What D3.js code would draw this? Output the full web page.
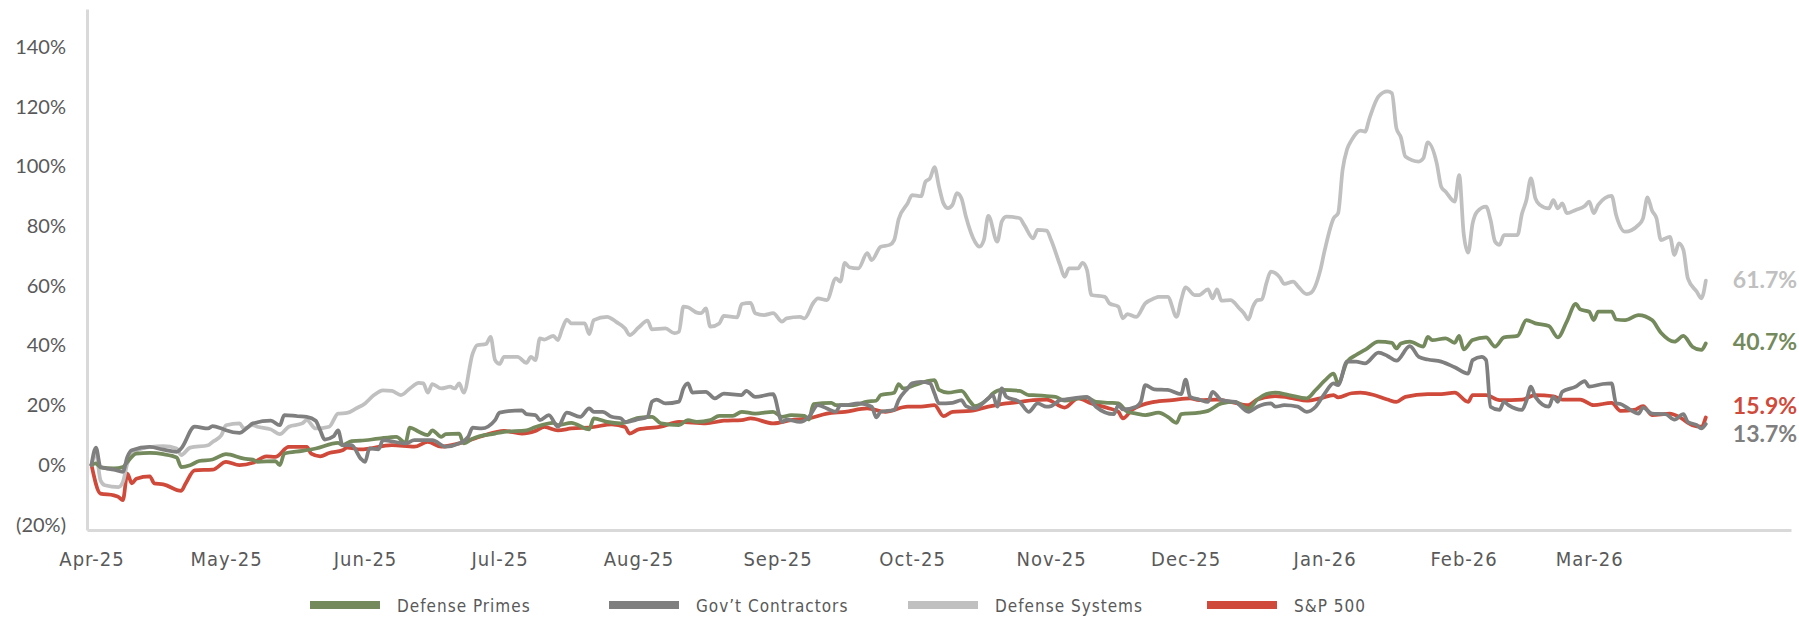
<!DOCTYPE html>
<html>
<head>
<meta charset="utf-8">
<script src="https://cdn.jsdelivr.net/npm/d3@7"></script>
<style>
  body { margin: 0; background: #fff; }
  svg { display: block; }
</style>
</head>
<body>
<svg id="chart" width="1799" height="617"></svg>
<script>
// days are counted from 1 Apr 2025, values are cumulative return in %
const startDate = new Date(2025, 3, 1)
const seriesNames = ['Defense Primes', 'Gov’t Contractors', 'Defense Systems', 'S&P 500']
const seriesColors = ['#748a5c', '#7f7f7f', '#c0c0c0', '#cf4a3a']
const yTicks = [-20, 0, 20, 40, 60, 80, 100, 120, 140]
const monthTicks = d3.timeMonth.range(new Date(2025, 3, 1), new Date(2026, 3, 1))

const defensePrimes = [[0,0],[1,0.5],[2,-0.8],[5,-1.2],[7,-0.7],[8,1],[10,3.8],[13,4.0],[16,3.6],[19,2.5],[20,-0.7],[22,-0.1],[24,1.3],[27,1.8],[30,3.6],[34,2.1],[36,1.8],[37,1.0],[41,1.3],[42,-0.1],[43,3.8],[47,4.7],[50,5.5],[55,7.4],[56,6.6],[58,8.0],[60,8.1],[64,8.8],[68,9.4],[70,7.4],[71,12.5],[73,11.1],[75,10.0],[76,11.6],[78,9.4],[79,10.3],[82,10.5],[83,7.2],[85,8.8],[90,10.5],[92,11.1],[97,11.6],[99,12.7],[103,14.1],[104,13.3],[107,14.1],[111,11.9],[112,15.6],[115,14.4],[118,13.9],[122,15.8],[125,16.1],[127,13.9],[131,13.3],[133,15.0],[135,14.4],[138,15.0],[140,16.4],[143,16.4],[145,17.8],[148,17.2],[152,17.8],[154,16.1],[156,16.7],[159,16.4],[160,15.2],[161,20.4],[165,20.8],[166,20.0],[170,20.0],[173,21.2],[175,21.5],[176,23.4],[179,24.2],[180,27.1],[181,25.6],[185,27.5],[188,28.4],[189,25.1],[191,24.2],[194,24.8],[196,21.1],[197,19.7],[200,22.3],[201,23.9],[203,25.1],[207,24.8],[209,23.4],[210,23.4],[213,23.0],[215,22.8],[217,21.5],[220,22.3],[222,22.6],[224,21.1],[227,20.8],[229,20.6],[231,17.8],[233,17.2],[235,16.7],[238,17.5],[240,16.1],[242,14.1],[243,17.0],[247,17.5],[249,18.1],[252,20.6],[255,21.1],[258,18.9],[260,21.9],[262,23.7],[264,24.2],[267,23.4],[271,22.3],[273,25.1],[275,28.2],[277,30.6],[278,27.3],[280,34.6],[282,36.8],[284,38.5],[287,41.3],[290,40.9],[291,39.0],[292,40.7],[294,41.3],[297,39.6],[298,42.9],[299,41.8],[302,42.4],[304,40.9],[305,43.2],[306,38.7],[308,41.8],[311,42.7],[313,39.6],[315,42.7],[318,43.2],[320,48.5],[322,47.4],[325,46.5],[327,42.7],[329,48.0],[331,53.9],[332,52.1],[334,51.3],[335,48.5],[336,51.3],[339,51.3],[340,48.7],[342,48.5],[345,50.2],[348,48.5],[350,44.3],[353,41.3],[355,43.2],[357,39.6],[359,38.5],[360,40.7]]

const govtContractors = [[0,0],[1,5.8],[2,-0.7],[5,-1.6],[7,-2.3],[8,2.7],[9,4.9],[13,6.0],[16,5.1],[19,4.4],[20,5.5],[23,12.8],[26,12.2],[27,13.0],[29,12.2],[30,11.6],[33,10.7],[35,12.8],[36,13.9],[40,14.8],[42,13.3],[43,16.7],[46,16.3],[48,16.1],[50,14.8],[51,11.6],[52,8.5],[54,9.6],[55,11.6],[56,6.6],[58,6.6],[60,2.2],[61,1.0],[62,5.5],[64,5.2],[65,8.3],[70,7.2],[72,8.3],[76,8.3],[79,6.1],[82,7.2],[84,9.4],[85,12.5],[87,12.2],[90,15.0],[91,17.5],[96,18.3],[97,17.0],[99,16.7],[100,15.0],[102,16.7],[104,12.8],[106,17.5],[109,16.1],[111,18.9],[112,17.8],[114,17.8],[116,16.1],[118,15.6],[119,14.4],[122,15.3],[124,16.1],[125,21.2],[126,21.9],[128,20.6],[131,21.2],[132,25.6],[133,27.3],[134,24.2],[137,24.5],[139,22.3],[141,23.9],[145,23.4],[146,24.8],[148,22.8],[152,23.7],[154,14.4],[155,15.2],[158,14.4],[160,16.1],[162,20.0],[164,18.9],[166,17.8],[167,20.0],[168,20.0],[171,20.6],[174,19.5],[175,15.9],[176,17.8],[179,18.4],[180,21.7],[182,25.6],[183,27.3],[185,27.8],[187,27.3],[188,23.9],[189,20.6],[192,20.8],[194,21.7],[195,19.7],[197,18.9],[200,22.3],[201,23.4],[202,19.5],[203,25.6],[204,22.8],[207,21.1],[209,17.8],[211,20.6],[213,19.5],[214,19.7],[216,21.7],[217,21.9],[222,22.8],[224,19.5],[228,17.0],[229,20.0],[230,18.6],[233,19.5],[234,21.1],[235,26.7],[237,25.3],[240,25.1],[243,23.7],[244,28.6],[245,22.8],[247,21.9],[249,21.1],[250,24.5],[252,21.7],[255,21.1],[258,17.8],[260,19.5],[263,20.6],[264,19.5],[266,20.0],[269,19.5],[271,17.8],[273,19.5],[275,23.9],[277,27.3],[278,26.7],[280,34.6],[282,34.6],[284,34.0],[287,37.6],[289,36.5],[291,34.9],[294,39.8],[296,36.2],[298,35.3],[301,34.6],[304,32.7],[307,30.6],[308,35.1],[310,36.2],[311,35.1],[312,19.5],[314,18.4],[315,21.1],[316,20.0],[319,18.4],[320,21.5],[321,26.2],[322,22.8],[325,19.5],[326,22.8],[327,21.1],[328,24.5],[331,26.2],[333,28.1],[334,26.2],[337,27.1],[339,27.3],[340,20.6],[341,20.4],[343,18.6],[345,17.2],[346,19.2],[348,17.2],[351,17.0],[353,15.2],[355,17.0],[356,14.4],[358,13.3],[359,12.2],[360,13.7]]

const defenseSystems = [[0,0],[1,3.8],[2,-5.1],[3,-6.8],[6,-7.4],[7,-5.7],[8,0.5],[10,4.7],[13,6.0],[16,6.3],[19,5.5],[20,3.3],[22,5.8],[26,6.6],[27,7.7],[29,10.0],[30,13.3],[33,13.9],[34,12.2],[36,13.3],[37,12.8],[40,11.9],[42,10.3],[44,12.8],[47,13.9],[48,15.0],[50,12.2],[53,12.8],[55,17.2],[57,17.4],[59,18.9],[61,20.6],[63,23.4],[65,25.0],[67,24.8],[69,23.4],[71,25.6],[73,27.5],[74,27.3],[75,24.2],[76,27.1],[78,25.6],[80,26.2],[81,25.6],[82,27.3],[83,24.2],[85,37.3],[86,40.1],[88,40.5],[89,42.9],[90,35.1],[91,33.8],[92,36.2],[95,36.2],[97,34.2],[98,36.2],[99,35.1],[100,42.4],[101,42.0],[103,43.2],[104,41.8],[105,45.7],[106,48.7],[107,47.4],[110,47.4],[111,43.8],[112,48.5],[115,49.6],[117,47.9],[119,45.7],[120,43.5],[122,46.0],[124,48.3],[125,45.4],[128,45.7],[130,44.1],[131,44.6],[132,53.0],[133,52.8],[135,51.0],[136,50.8],[137,52.4],[138,46.3],[140,47.4],[141,49.9],[144,49.4],[145,53.9],[147,54.3],[148,50.8],[150,50.2],[152,50.8],[154,48.0],[155,49.1],[158,49.6],[159,49.1],[161,54.3],[162,55.8],[164,55.2],[166,62.5],[167,61.4],[168,67.7],[169,66.2],[171,65.8],[173,70.9],[174,68.6],[176,73.1],[178,73.7],[179,75.3],[180,82.3],[182,87.6],[183,90.4],[185,90.0],[186,94.9],[187,96.0],[188,99.7],[189,93.2],[190,87.6],[191,86.0],[192,87.1],[193,91.0],[194,89.3],[195,83.2],[197,74.8],[198,73.1],[199,75.3],[200,83.4],[202,74.8],[203,81.5],[204,83.2],[207,82.6],[208,80.4],[210,75.9],[211,78.7],[213,78.5],[214,75.3],[216,66.9],[217,63.0],[218,65.8],[220,65.8],[221,67.7],[222,65.3],[223,56.9],[226,56.3],[227,54.1],[229,53.0],[230,49.1],[231,50.5],[233,49.6],[235,54.1],[237,55.8],[238,56.3],[240,56.3],[242,49.6],[243,55.2],[244,59.5],[246,56.9],[247,56.9],[249,58.8],[250,55.8],[251,58.8],[252,55.0],[254,55.2],[256,52.4],[257,50.8],[258,48.7],[259,53.0],[260,55.2],[261,55.4],[262,60.8],[263,64.7],[265,62.8],[266,60.6],[268,61.4],[269,59.9],[271,57.2],[272,57.7],[274,65.0],[275,71.8],[277,82.6],[278,84.3],[279,98.8],[280,105.7],[281,108.8],[283,112.0],[284,111.6],[285,116.1],[287,123.4],[289,125.1],[290,124.5],[291,112.8],[292,109.7],[293,103.3],[296,101.6],[297,102.7],[298,108.0],[300,101.0],[301,93.2],[302,91.5],[304,88.2],[305,97.1],[306,77.6],[307,71.1],[308,80.9],[309,84.8],[311,86.5],[312,82.0],[313,74.8],[314,73.7],[315,77.0],[318,77.0],[319,84.1],[320,88.7],[321,96.0],[322,89.3],[323,87.1],[325,85.9],[326,88.7],[327,85.9],[328,87.6],[329,84.3],[331,85.4],[333,86.7],[334,88.2],[335,84.3],[336,87.1],[339,90.1],[340,83.7],[342,78.1],[345,80.4],[346,82.6],[347,89.6],[348,85.2],[349,82.6],[350,75.3],[352,76.4],[353,70.3],[354,74.2],[355,72.0],[356,62.5],[358,58.0],[359,55.8],[360,61.7]]

const sp500 = [[0,0],[2,-9.6],[5,-10.2],[6,-10.7],[7,-11.8],[8,-2.9],[9,-6.2],[10,-4.6],[13,-3.8],[14,-6.2],[16,-6.5],[20,-8.7],[21,-6.2],[23,-1.8],[27,-1.6],[30,1.0],[33,-0.1],[36,0.7],[39,2.9],[41,2.7],[44,6.0],[48,6.0],[49,3.8],[51,2.9],[53,4.0],[56,4.9],[57,5.8],[60,5.2],[67,6.6],[72,6.1],[75,7.7],[78,6.1],[82,7.2],[87,9.6],[92,11.4],[96,10.5],[99,11.4],[101,12.7],[104,11.6],[107,12.2],[112,12.7],[116,13.6],[119,12.7],[120,10.5],[122,11.9],[127,12.8],[131,14.4],[137,13.9],[141,14.8],[145,15.0],[147,15.6],[152,13.9],[156,15.0],[160,15.6],[164,17.2],[168,17.8],[173,18.9],[177,17.8],[182,19.5],[185,19.5],[188,20.0],[190,16.3],[192,17.8],[196,18.1],[200,19.5],[204,20.6],[207,21.1],[210,21.7],[213,21.9],[217,19.2],[220,22.3],[223,20.6],[227,18.9],[229,17.8],[230,15.6],[232,18.4],[237,21.1],[241,21.7],[245,22.3],[247,21.7],[251,21.9],[254,21.1],[258,20.0],[260,21.9],[264,23.0],[268,22.3],[271,21.5],[274,22.3],[277,23.4],[278,22.6],[281,24.0],[283,24.2],[286,23.4],[289,21.9],[291,21.1],[293,22.8],[298,23.7],[301,23.7],[304,24.2],[307,21.1],[308,23.4],[311,23.4],[314,21.7],[319,21.9],[322,23.4],[326,23.0],[328,21.9],[332,21.9],[335,20.0],[339,20.8],[341,18.1],[344,18.4],[346,19.7],[348,16.7],[352,17.2],[354,16.1],[357,13.3],[359,12.8],[360,15.9]]

const allSeries = [defensePrimes, govtContractors, defenseSystems, sp500]
const drawOrder = [3, 2, 0, 1]

const svg = d3.select('#chart')
const axisColor = '#d9d9d9'
const textColor = '#595959'

const x = d3.scaleTime().domain([new Date(2025, 2, 31), new Date(2026, 3, 15)]).range([87, 1791])
const y = d3.scaleLinear().domain([-21.8, 152.7]).range([530, 9])

const dayToDate = d => d3.timeDay.offset(startDate, d)

// Y axis
const yAxis = svg.append('g').attr('class', 'y-axis').attr('transform', 'translate(87,0)')
  .call(d3.axisLeft(y).tickValues(yTicks).tickSize(0).tickPadding(21)
    .tickFormat(v => v < 0 ? `(${Math.abs(v)}%)` : `${v}%`))
yAxis.select('.domain').attr('stroke', axisColor).attr('stroke-width', 3)
yAxis.selectAll('text')
  .attr('fill', textColor)
  .style('font-family', 'Lato, "Noto Sans", sans-serif')
  .style('font-size', '20px')

// X axis
const xAxis = svg.append('g').attr('class', 'x-axis').attr('transform', 'translate(0,530)')
  .call(d3.axisBottom(x).tickValues(monthTicks).tickSize(0).tickPadding(22)
    .tickFormat(d3.timeFormat('%b-%y')))
xAxis.select('.domain').attr('stroke', axisColor).attr('stroke-width', 3)
xAxis.selectAll('text')
  .attr('fill', textColor)
  .style('font-family', '"Liberation Sans Narrow", "DejaVu Sans Condensed", sans-serif')
  .style('font-size', '20px')
  .style('letter-spacing', '1px')

// Lines
const line = d3.line()
  .x(d => x(dayToDate(d[0])))
  .y(d => y(d[1]))
  .curve(d3.curveMonotoneX)

const linesGroup = svg.append('g').attr('class', 'lines')
linesGroup.selectAll('path')
  .data(drawOrder)
  .join('path')
    .attr('d', i => line(allSeries[i]))
    .attr('fill', 'none')
    .attr('stroke', i => seriesColors[i])
    .attr('stroke-width', 3.75)
    .attr('stroke-linejoin', 'round')
    .attr('stroke-linecap', 'round')

// End labels, nudged apart where they would collide
const endLabels = allSeries.map((s, i) => {
  const last = s[s.length - 1]
  return {i, value: last[1], date: dayToDate(last[0]), ly: y(last[1]) - 2}
}).sort((a, b) => a.ly - b.ly)
const minGap = 28
for (let k = 1; k < endLabels.length; k++) {
  const prev = endLabels[k - 1], cur = endLabels[k]
  if (cur.ly - prev.ly < minGap) {
    const mid = (cur.ly + prev.ly) / 2
    prev.ly = mid - minGap / 2
    cur.ly = mid + minGap / 2
  }
}
svg.append('g').attr('class', 'end-labels')
  .selectAll('text')
  .data(endLabels)
  .join('text')
    .attr('x', d => x(d.date) + 27)
    .attr('y', d => d.ly)
    .attr('dominant-baseline', 'central')
    .attr('fill', d => seriesColors[d.i])
    .style('font-family', 'Lato, "Noto Sans", sans-serif')
    .style('font-weight', 700)
    .style('font-size', '23px')
    .text(d => d3.format('.1f')(d.value) + '%')

// Legend
const legend = svg.append('g').attr('class', 'legend').attr('transform', 'translate(310,0)')
const legendItems = legend.selectAll('g')
  .data(seriesNames)
  .join('g')
    .attr('transform', (d, i) => `translate(${i * 299},0)`)
legendItems.append('rect')
  .attr('x', 0).attr('y', 601)
  .attr('width', 70).attr('height', 8)
  .attr('fill', (d, i) => seriesColors[i])
legendItems.append('text')
  .attr('x', 87).attr('y', 612)
  .attr('fill', textColor)
  .style('font-family', '"Liberation Sans Narrow", "DejaVu Sans Condensed", sans-serif')
  .style('font-size', '17px')
  .style('letter-spacing', '1px')
  .text(d => d)
</script>
</body>
</html>
